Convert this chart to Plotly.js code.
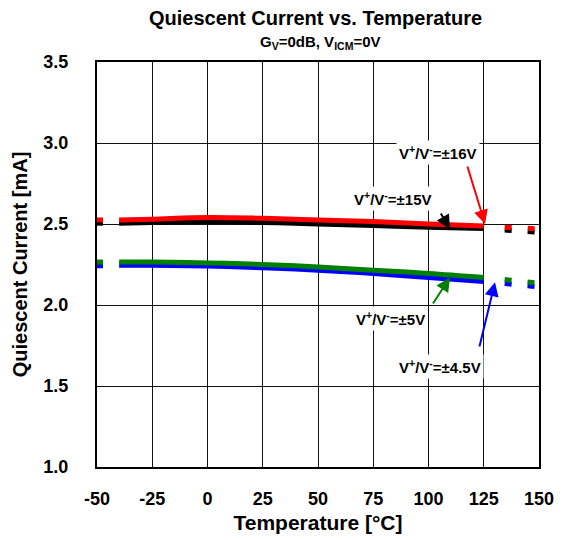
<!DOCTYPE html>
<html><head><meta charset="utf-8">
<script src="https://cdn.plot.ly/plotly-3.0.1.min.js"></script>
<style>body{margin:0;background:#fff}#c{width:563px;height:540px}</style>
</head><body><div id="c"></div>
<script>
const temps = [-40, -25, 0, 25, 50, 75, 100, 125];
const tempsLo = [-50, -40];
const tempsHi = [125, 150];
const i16 = [2.525, 2.530, 2.540, 2.535, 2.525, 2.515, 2.500, 2.487];
const i15 = [2.505, 2.510, 2.515, 2.510, 2.500, 2.490, 2.480, 2.472];
const i5  = [2.265, 2.265, 2.260, 2.250, 2.235, 2.215, 2.195, 2.170];
const i45 = [2.245, 2.245, 2.240, 2.230, 2.215, 2.195, 2.170, 2.145];
const i16Lo = [2.525, 2.525], i16Hi = [2.487, 2.470];
const i15Lo = [2.505, 2.505], i15Hi = [2.472, 2.448];
const i5Lo  = [2.265, 2.265], i5Hi  = [2.170, 2.135];
const i45Lo = [2.242, 2.245], i45Hi = [2.145, 2.112];
const xTicks = [-50, -25, 0, 25, 50, 75, 100, 125, 150];
const yTicks = [1.0, 1.5, 2.0, 2.5, 3.0, 3.5];
const labels = ["V<sup>+</sup>/V<sup>-</sup>=±16V", "V<sup>+</sup>/V<sup>-</sup>=±15V", "V<sup>+</sup>/V<sup>-</sup>=±5V", "V<sup>+</sup>/V<sup>-</sup>=±4.5V"];
const colors = ["#ff0000", "#000000", "#008000", "#0000ff"];

const series = [
  {lo: i45Lo, mid: i45, hi: i45Hi, c: colors[3]},
  {lo: i5Lo, mid: i5, hi: i5Hi, c: colors[2]},
  {lo: i15Lo, mid: i15, hi: i15Hi, c: colors[1]},
  {lo: i16Lo, mid: i16, hi: i16Hi, c: colors[0]}
];
const traces = [];
series.forEach(s => {
  traces.push({x: tempsLo, y: s.lo, mode: 'lines', line: {color: s.c, width: 5, dash: '6px,100px'}, hoverinfo: 'skip'});
  traces.push({x: temps, y: s.mid, mode: 'lines', line: {color: s.c, width: 5, shape: 'spline'}, hoverinfo: 'skip'});
  traces.push({x: tempsHi, y: s.hi, mode: 'lines', line: {color: s.c, width: 5, dash: '0px,21px,7px,16px,7px,100px'}, hoverinfo: 'skip'});
});

const FAM = 'Arial, "Liberation Sans", sans-serif';
const fs = n => ({family: FAM, size: n, color: '#000', weight: 'bold'});
const lab = (t, x, y) => ({text: t, x: x, y: y, xref: 'x', yref: 'y', showarrow: false, bgcolor: '#fff', font: fs(15), borderpad: 2});
const arr = (c, ax, ay, x, y) => ({text: '', x: x, y: y, ax: ax, ay: ay, xref: 'x', yref: 'y', axref: 'x', ayref: 'y', showarrow: true, arrowhead: 2, arrowsize: 1.4, arrowwidth: 2, arrowcolor: c, standoff: 0});

const layout = {
  width: 563, height: 540,
  margin: {l: 97, r: 24, t: 62, b: 73},
  paper_bgcolor: '#fff', plot_bgcolor: '#fff',
  showlegend: false,
  font: fs(18),
  xaxis: {range: [-50, 150], tickmode: 'array', tickvals: xTicks, ticktext: xTicks.map(String), showgrid: true, gridcolor: '#111', gridwidth: 1,
    zeroline: false, showline: true, mirror: true, linecolor: '#000', linewidth: 2, ticks: '', ticklabelstandoff: 14,
    tickfont: fs(18), title: {text: 'Temperature [°C]', font: fs(21), standoff: 8}},
  yaxis: {range: [1.0, 3.5], tickmode: 'array', tickvals: yTicks, ticktext: yTicks.map(v => v.toFixed(1)), showgrid: true, gridcolor: '#111', gridwidth: 1,
    zeroline: false, showline: true, mirror: true, linecolor: '#000', linewidth: 2, ticks: '', ticklabelstandoff: 23,
    tickfont: fs(18), title: {text: 'Quiescent Current [mA]', font: fs(20), standoff: 10}},
  annotations: [
    {text: 'Quiescent Current vs. Temperature', xref: 'paper', yref: 'paper', x: 0.495, y: 1, yanchor: 'middle', yshift: 44, showarrow: false, font: fs(20)},
    {text: 'G<sub>V</sub>=0dB, V<sub>ICM</sub>=0V', xref: 'paper', yref: 'paper', x: 0.505, y: 1, yanchor: 'middle', yshift: 20, showarrow: false, font: fs(15)},
    arr(colors[0], 117.4, 2.864, 125.6, 2.50),
    arr(colors[1], 105.2, 2.574, 109.7, 2.468),
    arr(colors[2], 101.6, 2.0, 109.7, 2.17),
    arr(colors[3], 122.9, 1.735, 130.1, 2.14),
    lab(labels[0], 104.3, 2.94),
    lab(labels[1], 83.9, 2.66),
    lab(labels[2], 82.6, 1.914),
    lab(labels[3], 105.2, 1.623)
  ]
};
Plotly.newPlot('c', traces, layout, {staticPlot: true});
</script></body></html>
